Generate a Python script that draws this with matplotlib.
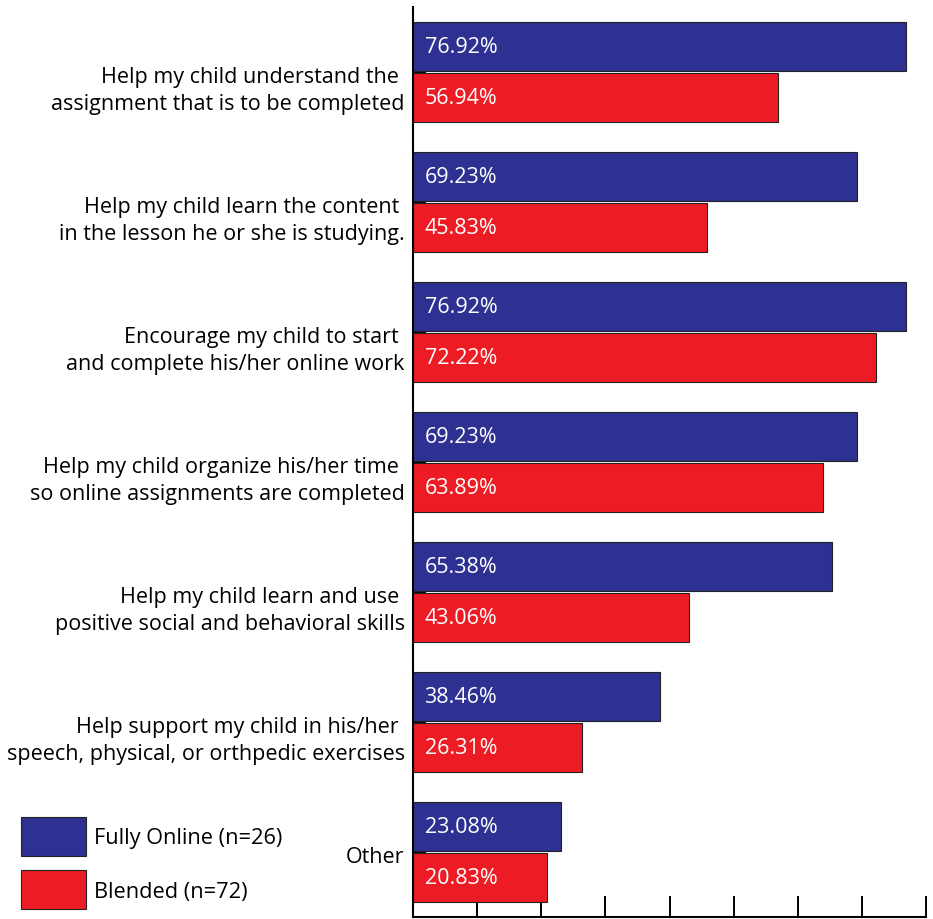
import matplotlib
matplotlib.use("Agg")
import matplotlib.pyplot as plt
from matplotlib.patches import Patch
import numpy as np

plt.rcParams['font.family'] = ['Open Sans', 'DejaVu Sans']

categories = [
    "Help my child understand the \nassignment that is to be completed",
    "Help my child learn the content \nin the lesson he or she is studying.",
    "Encourage my child to start \nand complete his/her online work",
    "Help my child organize his/her time \nso online assignments are completed",
    "Help my child learn and use \npositive social and behavioral skills",
    "Help support my child in his/her \nspeech, physical, or orthpedic exercises",
    "Other",
]
fully_online = [76.92, 69.23, 76.92, 69.23, 65.38, 38.46, 23.08]
blended = [56.94, 45.83, 72.22, 63.89, 43.06, 26.31, 20.83]
series_names = ["Fully Online (n=26)", "Blended (n=72)"]
x_ticks = [0, 10, 20, 30, 40, 50, 60, 70, 80]

BLUE = "#2E3192"
RED = "#ED1C24"

fig = plt.figure(figsize=(9.33, 9.20), dpi=100)
ax = fig.add_axes([413/933, 1-918/920, (926-413)/933, (918-8)/920])

y = np.arange(len(categories))
h = 0.37
off = 0.196
ax.barh(y - off, fully_online, height=h, color=BLUE, edgecolor="#222222",
        linewidth=0.8, zorder=3)
ax.barh(y + off, blended, height=h, color=RED, edgecolor="#222222",
        linewidth=0.8, zorder=3)

for yy, v in zip(y - off, fully_online):
    ax.text(1.8, yy, f"{v:.2f}%", color="white", fontsize=15.5, va="center",
            ha="left", zorder=4)
for yy, v in zip(y + off, blended):
    ax.text(1.8, yy, f"{v:.2f}%", color="white", fontsize=15.5, va="center",
            ha="left", zorder=4)

ax.set_xlim(0, 80)
ax.set_ylim(len(categories) - 1 + 0.5, -0.5)
ax.set_yticks(y)
ax.set_yticklabels([])
for yi, cat in zip(y, categories):
    ax.annotate(cat, xy=(0, yi), xycoords=ax.get_yaxis_transform(),
                xytext=(-6, 4.4), textcoords='offset points',
                ha='right', va='top', fontsize=15.5, linespacing=1.37,
                annotation_clip=False)
ax.set_xticks(x_ticks)
ax.set_xticklabels([])
ax.tick_params(axis='y', direction='in', length=9, width=1.4, pad=6)
ax.tick_params(axis='x', direction='in', length=15, width=1.4)
for s in ['top', 'right']:
    ax.spines[s].set_visible(False)
for s in ['left', 'bottom']:
    ax.spines[s].set_linewidth(1.5)
    ax.spines[s].set_zorder(5)

handles = [Patch(facecolor=BLUE, edgecolor="#222222", linewidth=0.8),
           Patch(facecolor=RED, edgecolor="#222222", linewidth=0.8)]
fig.legend(handles, series_names, loc='upper left',
           bbox_to_anchor=(21/933, 1-818/920), frameon=False, fontsize=15.7,
           handlelength=2.97, handleheight=2.36, labelspacing=0.67,
           handletextpad=0.4, borderpad=0, borderaxespad=0)

fig.savefig("out.png", dpi=100)
